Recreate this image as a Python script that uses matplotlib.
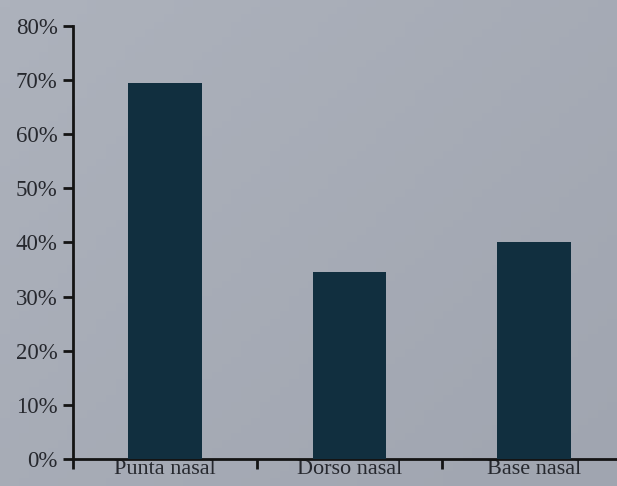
import matplotlib
matplotlib.use("Agg")
import matplotlib.pyplot as plt
import numpy as np
from matplotlib.ticker import FuncFormatter, FixedLocator

categories = ["Punta nasal", "Dorso nasal", "Base nasal"]
values = [69.4, 34.6, 40.0]
y_ticks = [0, 10, 20, 30, 40, 50, 60, 70, 80]

bg = "#a6abb5"
bar_color = "#112f3f"
ink = "#26282e"

plt.rcParams["font.family"] = ["Liberation Serif", "DejaVu Serif"]

fig = plt.figure(figsize=(6.17, 4.86), dpi=100)
fig.patch.set_facecolor(bg)

# soft paper shading behind everything
shade = fig.add_axes([0, 0, 1, 1], zorder=-10)
gx, gy = np.meshgrid(np.linspace(0, 1, 64), np.linspace(0, 1, 64))
g = 0.55 * gx + 0.45 * gy
shade.imshow(g, cmap=matplotlib.colors.LinearSegmentedColormap.from_list(
    "paper", ["#adb2bc", "#a0a5b0"]), aspect="auto", extent=[0, 1, 0, 1],
    origin="upper")
shade.set_axis_off()

ax = fig.add_axes([0.118, 0.0556, 0.882, 0.891])
ax.patch.set_alpha(0)
x = np.arange(len(categories))
ax.bar(x, values, width=0.4, color=bar_color, zorder=3)

ax.set_xlim(-0.5, 2.45)
ax.set_ylim(0, 80)
ax.yaxis.set_major_locator(FixedLocator(y_ticks))
ax.yaxis.set_major_formatter(FuncFormatter(lambda v, p: f"{v:.0f}%"))

ax.set_xticks(x)
ax.set_xticklabels(categories)
ax.tick_params(axis="x", length=0, pad=1, labelsize=16, colors=ink)
ax.set_xticks([-0.5, 0.5, 1.5], minor=True)
ax.tick_params(axis="x", which="minor", length=7, width=2, color="#141414",
               direction="out")
ax.tick_params(axis="y", length=7, width=2, color="#141414", pad=4,
               labelsize=16.5, labelcolor=ink, direction="out")

for side in ["top", "right"]:
    ax.spines[side].set_visible(False)
for side in ["left", "bottom"]:
    ax.spines[side].set_linewidth(2)
    ax.spines[side].set_color("#141414")

fig.savefig("out.png", dpi=100, facecolor=fig.get_facecolor())
